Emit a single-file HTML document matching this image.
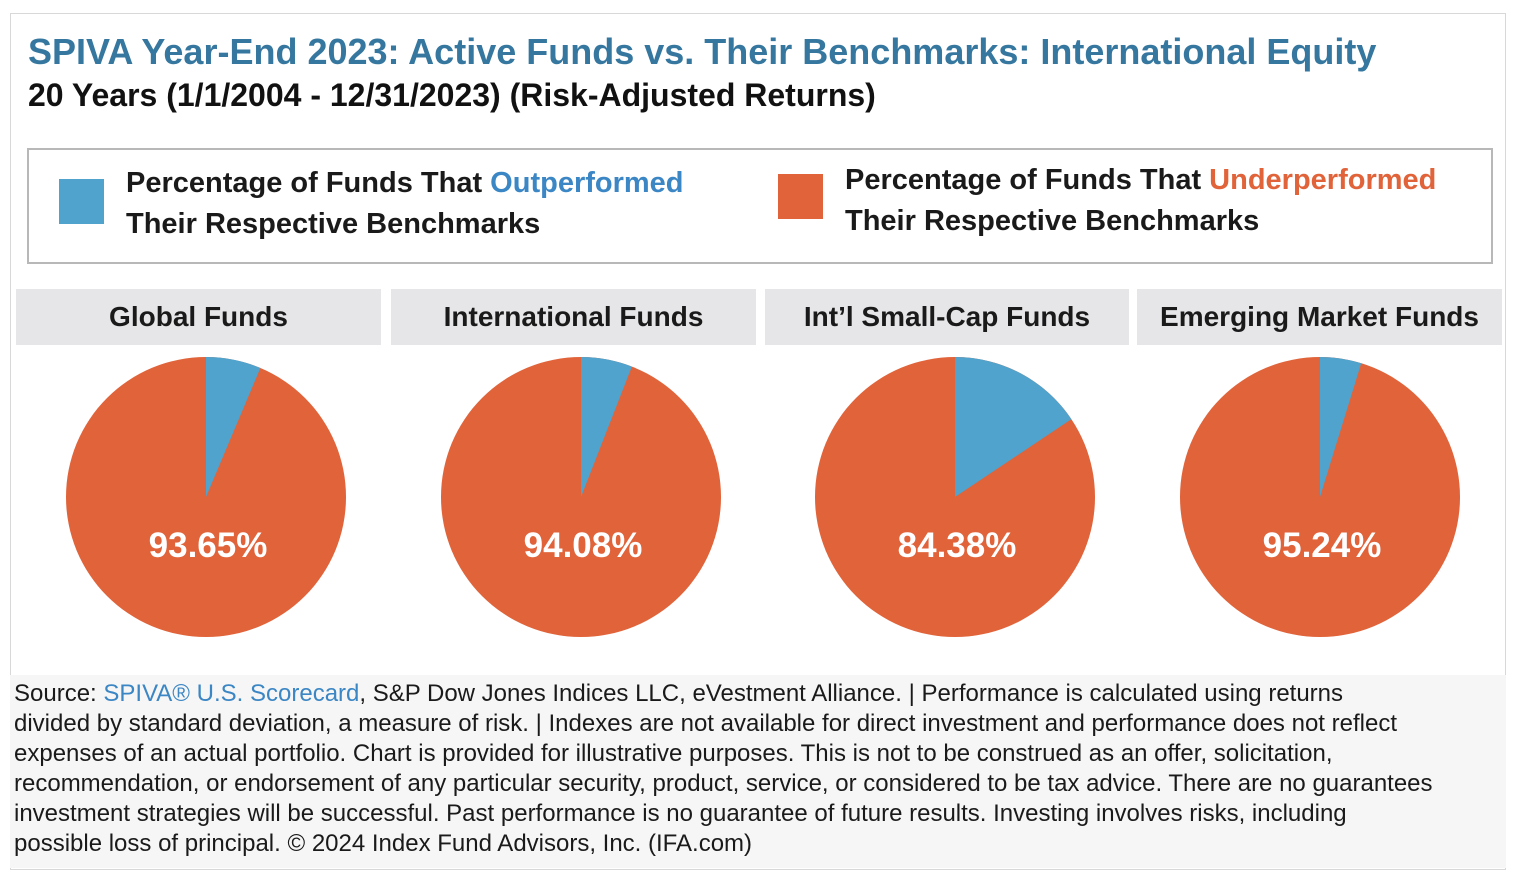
<!DOCTYPE html>
<html><head><meta charset="utf-8">
<style>
body{margin:0;width:1518px;height:888px;background:#fff;font-family:"Liberation Sans",sans-serif;position:relative;overflow:hidden}
.frame{position:absolute;left:10px;top:13px;width:1494px;height:855px;border:1px solid #d8d8d8}
.title{position:absolute;left:28px;top:31px;font-size:36px;font-weight:bold;color:#35779f;white-space:nowrap}
.sub{position:absolute;left:28px;top:77px;font-size:32px;font-weight:bold;color:#111;white-space:nowrap}
.legend{position:absolute;left:27px;top:148px;width:1462px;height:112px;border:2px solid #b8b8b8}
.sw{position:absolute;width:45px;height:45px}
.lt{position:absolute;font-size:29px;font-weight:bold;line-height:41px;color:#1a1a1a;white-space:nowrap}
.hdr{position:absolute;top:289px;height:56px;background:#e6e6e8;font-size:28px;font-weight:bold;color:#1a1a1a;text-align:center;line-height:56px}
.foot{position:absolute;left:10px;top:675px;width:1496px;height:193px;background:#f6f6f6}
.ft{position:absolute;left:14px;top:679px;font-size:24px;line-height:30px;color:#1a1a1a;white-space:nowrap}
</style></head><body>
<div class="frame"></div>
<div class="title">SPIVA Year-End 2023: Active Funds vs. Their Benchmarks: International Equity</div>
<div class="sub">20 Years (1/1/2004 - 12/31/2023) (Risk-Adjusted Returns)</div>
<div class="legend"></div>
<div class="sw" style="left:59px;top:179px;background:#4fa3cc"></div>
<div class="lt" style="left:126px;top:163px">Percentage of Funds That <span style="color:#3b86c4">Outperformed</span><br>Their Respective Benchmarks</div>
<div class="sw" style="left:778px;top:174px;background:#e0633a"></div>
<div class="lt" style="left:845px;top:160px">Percentage of Funds That <span style="color:#e0633a">Underperformed</span><br>Their Respective Benchmarks</div>
<div class="hdr" style="left:16px;width:365px">Global Funds</div>
<div class="hdr" style="left:391px;width:365px">International Funds</div>
<div class="hdr" style="left:765px;width:364px">Int’l Small-Cap Funds</div>
<div class="hdr" style="left:1137px;width:365px">Emerging Market Funds</div>
<svg id="pies" width="1518" height="888" style="position:absolute;left:0;top:0"></svg>
<div class="foot"></div>
<div class="ft">Source: <span style="color:#3b86c4">SPIVA® U.S. Scorecard</span>, S&amp;P Dow Jones Indices LLC, eVestment Alliance. | Performance is calculated using returns<br>divided by standard deviation, a measure of risk. | Indexes are not available for direct investment and performance does not reflect<br>expenses of an actual portfolio. Chart is provided for illustrative purposes. This is not to be construed as an offer, solicitation,<br>recommendation, or endorsement of any particular security, product, service, or considered to be tax advice. There are no guarantees<br>investment strategies will be successful. Past performance is no guarantee of future results. Investing involves risks, including<br>possible loss of principal. © 2024 Index Fund Advisors, Inc. (IFA.com)</div>
<script>
const categories=["Global Funds","International Funds","Int'l Small-Cap Funds","Emerging Market Funds"];
const underperformed=[93.65,94.08,84.38,95.24];
const centersX=[206,581,955,1320];
const svg=document.getElementById('pies');
const NS="http://www.w3.org/2000/svg";
const R=140, CY=497;
function pt(cx,a){return [cx+R*Math.sin(a),CY-R*Math.cos(a)];}
underperformed.forEach((u,i)=>{
  const cx=centersX[i];
  const outFrac=(100-u)/100;
  const a=outFrac*2*Math.PI;
  const c=document.createElementNS(NS,'circle');
  c.setAttribute('cx',cx);c.setAttribute('cy',CY);c.setAttribute('r',R);c.setAttribute('fill','#e0633a');
  
  
  svg.appendChild(c);
  const p=pt(cx,a);
  const s=document.createElementNS(NS,'path');
  s.setAttribute('d',`M${cx},${CY} L${cx},${CY-R} A${R},${R} 0 ${outFrac>0.5?1:0} 1 ${p[0]},${p[1]} Z`);
  s.setAttribute('fill','#4fa3cc');
  
  
  svg.appendChild(s);
  const t=document.createElementNS(NS,'text');
  t.setAttribute('x',cx+2);t.setAttribute('y',CY+60);t.setAttribute('text-anchor','middle');
  t.setAttribute('font-family','Liberation Sans, sans-serif');t.setAttribute('font-size','35');t.setAttribute('font-weight','bold');t.setAttribute('fill','#fff');
  t.textContent=u.toFixed(2)+'%';
  
  
  svg.appendChild(t);
});
</script>
</body></html>
